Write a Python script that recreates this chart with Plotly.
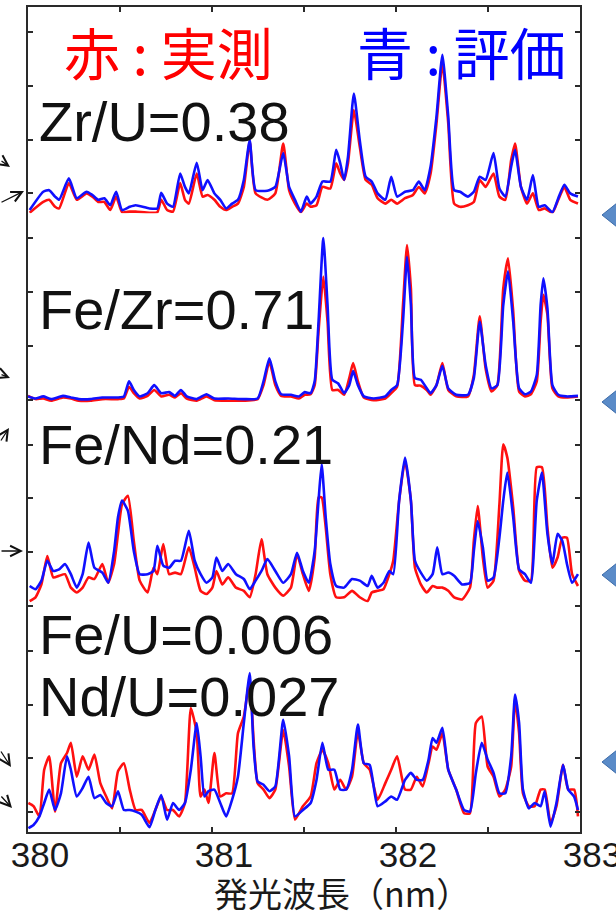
import plotly.graph_objects as go
from plotly.subplots import make_subplots

# ---------------- data (wavelength in nm, intensity in arbitrary units) ----------------
x_p1 = [380.009, 380.083, 380.115, 380.147, 380.169, 380.222, 380.265, 380.318, 380.350, 380.382,
        380.415, 380.447, 380.479, 380.511, 380.553, 380.585, 380.660, 380.703, 380.724, 380.756,
        380.788, 380.827, 380.853, 380.874, 380.917, 380.949, 380.976, 381.013, 381.045, 381.077,
        381.109, 381.141, 381.173, 381.205, 381.237, 381.301, 381.344, 381.387, 381.419, 381.451,
        381.483, 381.515, 381.536, 381.568, 381.600, 381.643, 381.675, 381.697, 381.718, 381.739,
        381.771, 381.803, 381.835, 381.868, 381.900, 381.942, 381.974, 382.006, 382.049, 382.092,
        382.124, 382.156, 382.188, 382.220, 382.252, 382.284, 382.316, 382.348, 382.391, 382.423,
        382.455, 382.487, 382.530, 382.562, 382.594, 382.626, 382.647, 382.679, 382.712, 382.744,
        382.776, 382.808, 382.850, 382.882, 382.915, 382.947, 382.989]
blue_p1 = [-31, 3, 6, -6, -12, 28, -9, 3, -3, -12,
           -9, -22, 3, -31, -25, -22, -28, -28, 1, -19,
           -25, 37, 12, 0, 57, 6, 25, 0, -12, -28,
           -19, -12, 25, 99, 6, 5, 12, 75, 12, -12,
           -34, -6, -19, -6, 22, 22, 81, 56, 25, 68,
           186, 99, 31, 22, 0, -12, 31, -6, 3, 6,
           22, 6, 50, 143, 258, 143, 6, 3, -6, 3,
           31, 25, 75, 9, -6, 50, 81, 12, -12, 34,
           -25, -22, -35, -9, 16, 0, -6]
red_p1 = [-36, -16, -12, -25, -28, 19, -12, 0, -6, -16,
          -16, -31, -6, -35, -34, -34, -36, -35, -12, -31,
          -34, 19, -12, -19, 37, -6, -3, -12, -25, -31,
          -25, -19, 12, 96, 0, -12, 0, 93, 6, -19,
          -35, -19, -25, -22, 12, 9, 56, 37, 25, 56,
          155, 87, 25, 16, -9, -19, -12, -19, -9, -3,
          12, 0, 37, 130, 242, 130, -19, -25, -22, -16,
          25, 12, 37, -6, -12, 62, 93, 12, -19, 0,
          -31, -28, -36, -12, 12, -12, -19]

x_p2 = [380.000, 380.041, 380.083, 380.126, 380.190, 380.233, 380.276, 380.340, 380.404, 380.489,
        380.521, 380.549, 380.575, 380.607, 380.650, 380.686, 380.724, 380.767, 380.799, 380.831,
        380.863, 380.917, 380.970, 381.013, 381.088, 381.173, 381.248, 381.280, 381.312, 381.344,
        381.376, 381.429, 381.472, 381.504, 381.536, 381.558, 381.579, 381.605, 381.628, 381.654,
        381.686, 381.718, 381.746, 381.767, 381.793, 381.825, 381.878, 381.942, 381.974, 382.006,
        382.038, 382.060, 382.081, 382.103, 382.135, 382.167, 382.188, 382.220, 382.252, 382.284,
        382.327, 382.391, 382.423, 382.455, 382.487, 382.519, 382.551, 382.583, 382.609, 382.637,
        382.669, 382.701, 382.733, 382.765, 382.786, 382.801, 382.823, 382.850, 382.882, 382.925,
        382.989]
blue_p2 = [6, 2, 6, 1, 7, 4, 1, 1, 4, 4,
           6, 34, 18, 6, 12, 27, 12, 14, 7, 18,
           6, 1, 10, 2, 2, 1, 2, 34, 77, 34,
           10, 9, 6, 14, 12, 34, 145, 301, 176, 37,
           30, 12, 27, 53, 27, 6, 2, 6, 18, 27,
           145, 266, 176, 40, 37, 21, 12, 27, 63, 21,
           9, 9, 40, 145, 65, 21, 27, 176, 239, 145,
           21, 10, 15, 46, 176, 226, 170, 27, 9, 6,
           7]
red_p2 = [7, 1, 2, -2, 4, 2, -2, -2, 1, 1,
          2, 24, 12, 2, 7, 18, 6, 9, 4, 12,
          2, -2, 6, -1, -2, -2, 1, 27, 71, 27,
          7, 6, 2, 9, 10, 27, 127, 229, 145, 18,
          18, 9, 40, 68, 34, 4, -1, 2, 12, 24,
          176, 288, 207, 27, 26, 18, 9, 27, 68, 18,
          6, 6, 46, 155, 58, 15, 27, 207, 263, 164,
          15, 6, 10, 34, 145, 195, 158, 21, 6, 4,
          6]

x_p3 = [380.009, 380.041, 380.073, 380.105, 380.137, 380.169, 380.201, 380.233, 380.265, 380.297,
        380.329, 380.361, 380.404, 380.436, 380.468, 380.489, 380.511, 380.543, 380.575, 380.607,
        380.650, 380.682, 380.703, 380.735, 380.767, 380.799, 380.831, 380.874, 380.906, 380.938,
        380.970, 381.002, 381.024, 381.056, 381.088, 381.130, 381.173, 381.205, 381.237, 381.269,
        381.301, 381.344, 381.387, 381.429, 381.462, 381.494, 381.526, 381.558, 381.579, 381.596,
        381.618, 381.643, 381.675, 381.718, 381.761, 381.803, 381.846, 381.868, 381.900, 381.932,
        381.964, 381.985, 382.017, 382.049, 382.081, 382.103, 382.135, 382.167, 382.199, 382.224,
        382.252, 382.284, 382.316, 382.359, 382.402, 382.423, 382.444, 382.472, 382.498, 382.530,
        382.562, 382.583, 382.605, 382.637, 382.669, 382.701, 382.733, 382.765, 382.793, 382.823,
        382.850, 382.878, 382.904, 382.929, 382.957, 382.989]
blue_p3 = [37, 31, 47, 84, 65, 68, 78, 59, 34, 59,
           118, 71, 62, 43, 102, 165, 196, 177, 102, 59,
           59, 65, 112, 75, 71, 84, 84, 140, 84, 59,
           43, 53, 90, 65, 78, 59, 50, 31, 47, 65,
           87, 65, 43, 59, 99, 65, 43, 102, 196, 264,
           165, 78, 37, 34, 50, 47, 37, 56, 34, 43,
           65, 59, 196, 276, 196, 84, 62, 47, 59, 109,
           59, 62, 56, 40, 43, 102, 158, 109, 47, 53,
           127, 196, 248, 165, 68, 59, 43, 196, 248, 134,
           78, 134, 121, 78, 43, 59]
red_p3 = [9, 16, 40, 93, 53, 56, 59, 34, 25, 34,
          53, 50, 78, 43, 78, 134, 189, 205, 121, 47,
          25, 71, 59, 115, 59, 62, 59, 109, 71, 28,
          22, 34, 65, 40, 53, 34, 28, 16, 59, 124,
          59, 34, 19, 34, 96, 59, 28, 90, 202, 202,
          146, 59, 16, 16, 28, 16, 9, 25, 28, 31,
          59, 84, 196, 270, 196, 71, 40, 25, 37, 34,
          34, 28, 16, 12, 34, 121, 186, 90, 34, 47,
          189, 301, 276, 183, 65, 47, 47, 258, 258, 146,
          71, 90, 127, 127, 59, 37]

x_p4 = [380.002, 380.030, 380.062, 380.088, 380.115, 380.147, 380.179, 380.212, 380.233, 380.265,
        380.297, 380.329, 380.361, 380.393, 380.425, 380.457, 380.489, 380.521, 380.553, 380.585,
        380.618, 380.660, 380.692, 380.724, 380.756, 380.788, 380.821, 380.853, 380.885, 380.917,
        380.938, 380.959, 380.981, 381.013, 381.045, 381.077, 381.109, 381.141, 381.173, 381.205,
        381.226, 381.248, 381.280, 381.312, 381.344, 381.387, 381.419, 381.451, 381.494, 381.536,
        381.568, 381.600, 381.632, 381.665, 381.697, 381.729, 381.761, 381.793, 381.825, 381.857,
        381.900, 381.942, 381.974, 382.006, 382.049, 382.081, 382.113, 382.145, 382.177, 382.199,
        382.220, 382.252, 382.284, 382.327, 382.370, 382.402, 382.434, 382.466, 382.498, 382.530,
        382.562, 382.594, 382.626, 382.647, 382.669, 382.690, 382.722, 382.754, 382.786, 382.808,
        382.840, 382.872, 382.908, 382.936, 382.968, 382.989]
blue_p4 = [-30, -24, -8, 17, 42, 4, 35, 104, 79, 29,
           45, 66, 26, 32, 17, 11, 39, 4, 4, 1,
           -5, -28, 4, 32, -14, 17, 4, 17, 79, 166,
           104, 29, 39, 42, 17, -8, 23, 66, 166, 259,
           122, 57, 51, 39, 48, 172, 104, -8, 4, 17,
           60, 129, 79, 79, 42, 42, 79, 163, 91, 88,
           11, 20, 29, 23, 60, 73, 60, 60, 98, 138,
           129, 157, 79, 42, 4, 1, 73, 129, 98, 73,
           35, 35, 104, 219, 166, 42, 7, 17, 11, 39,
           -27, 17, 88, 42, 29, 4]
red_p4 = [17, 11, -8, 79, 104, 1, 91, 110, 129, 66,
          104, 79, 107, 54, 29, 7, 76, 91, 42, 4,
          4, -20, 4, 29, 4, 4, -8, 17, 194, 147,
          29, 42, 17, 110, 29, 35, 35, 147, 178, 247,
          135, 54, 42, 26, 42, 153, 85, -14, 11, 29,
          91, 116, 91, 42, 60, 42, 66, 150, 91, 79,
          23, 54, 79, 104, 42, 42, 66, 48, 91, 122,
          116, 147, 79, 42, -2, -2, 166, 178, 85, 66,
          29, 42, 85, 209, 147, 35, 11, 11, 42, 42,
          -20, 11, 88, 42, 42, -8]

panel_x = [x_p1, x_p2, x_p3, x_p4]
panel_red = [red_p1, red_p2, red_p3, red_p4]
panel_blue = [blue_p1, blue_p2, blue_p3, blue_p4]
panel_labels = ["Zr/U=0.38", "Fe/Zr=0.71", "Fe/Nd=0.21", "Fe/U=0.006", "Nd/U=0.027"]
legend_red = "赤 : 実測"
legend_blue = "青 : 評価"
x_tick_vals = [380, 380.5, 381, 381.5, 382, 382.5, 383]
x_tick_text = ["380", "", "381", "", "382", "", "383"]
y_tick_vals = [0, 100, 200, 300]
x_title = "発光波長（nm）"

for xs, rs, bs in zip(panel_x, panel_red, panel_blue):
    assert len(xs) == len(rs) == len(bs), (len(xs), len(rs), len(bs))

# ---------------- figure ----------------
W, H = 616, 911
ML, MR, MT, MB = 28, 36, 7, 79
PW, PH = W - ML - MR, H - MT - MB

def px(x):
    return (x - ML) / PW

def py(y):
    return (H - MB - y) / PH

fig = make_subplots(rows=4, cols=1, shared_xaxes=True, vertical_spacing=0)

RED = "#FF1010"
BLUE = "#1010FF"
for i in range(4):
    fig.add_trace(go.Scatter(x=panel_x[i], y=panel_red[i], mode="lines",
                             line=dict(color=RED, width=2.6, shape="spline", smoothing=0.5),
                             showlegend=False, hoverinfo="skip"), row=i + 1, col=1)
    fig.add_trace(go.Scatter(x=panel_x[i], y=panel_blue[i], mode="lines",
                             line=dict(color=BLUE, width=2.6, shape="spline", smoothing=0.5),
                             showlegend=False, hoverinfo="skip"), row=i + 1, col=1)

AX = "#2a2a2a"
for i in range(1, 5):
    fig.update_yaxes(range=[-37, 347], tickvals=y_tick_vals, ticks="inside", ticklen=5,
                     tickwidth=1.6, tickcolor=AX, showticklabels=False, showline=True,
                     linecolor=AX, linewidth=2, mirror="ticks", showgrid=False,
                     zeroline=False, automargin=False, row=i, col=1)
    fig.update_xaxes(range=[380, 383], showgrid=False, zeroline=False, automargin=False,
                     row=i, col=1)

fig.update_layout(
    xaxis=dict(side="top", showline=True, linecolor=AX, linewidth=2, ticks="inside",
               ticklen=5, tickwidth=1.6, tickcolor=AX, tickvals=x_tick_vals,
               showticklabels=False),
    xaxis2=dict(showline=False, ticks=""),
    xaxis3=dict(showline=False, ticks=""),
    xaxis4=dict(showline=True, linecolor=AX, linewidth=2, ticks="inside", ticklen=5,
                tickwidth=1.6, tickcolor=AX, tickvals=x_tick_vals, ticktext=x_tick_text,
                showticklabels=True, ticklabelshift=12, ticklabelstandoff=-9,
                ticklabeloverflow="allow", automargin=False,
                tickfont=dict(family="Liberation Sans, Arial", size=35, color="#1a1a1a")),
)

ann = []
cjk = "Noto Sans CJK JP"
sans = "Liberation Sans, Arial"
ann.append(dict(text=legend_red, x=px(62), y=py(50), xref="paper", yref="paper",
                xanchor="left", yanchor="middle", showarrow=False,
                font=dict(family=cjk, size=56, color="#FF0000")))
ann.append(dict(text=legend_blue, x=px(355), y=py(50), xref="paper", yref="paper",
                xanchor="left", yanchor="middle", showarrow=False,
                font=dict(family=cjk, size=56, color="#0000FF")))
label_y = [121, 309, 444, 634, 696]
for t, yy in zip(panel_labels, label_y):
    ann.append(dict(text=t, x=px(37), y=py(yy), xref="paper", yref="paper",
                    xanchor="left", yanchor="middle", showarrow=False,
                    font=dict(family=sans, size=56, color="#111111")))
ann.append(dict(text=x_title, x=px(342), y=py(892), xref="paper", yref="paper",
                xanchor="center", yanchor="middle", showarrow=False,
                font=dict(family=cjk, size=34, color="#1a1a1a")))

# small arrows at the left edge (slide decorations)
arrows = [((10, 167), (-20, 160)), ((24, 191), (-4, 203)), ((10, 378), (-20, 374)),
          ((9, 428), (-6, 442)), ((23, 551), (-10, 551)), ((11, 767), (-8, 750)),
          ((12, 808), (-8, 795))]
for (tx, ty), (sx, sy) in arrows:
    ann.append(dict(x=px(tx), y=py(ty), xref="paper", yref="paper", showarrow=True,
                    ax=sx - tx, ay=sy - ty, arrowhead=5, arrowsize=1.6, arrowwidth=1.3,
                    arrowcolor="#111111", text=""))
fig.update_layout(annotations=ann)

# blue diamond markers at the right edge (slide decorations)
shapes = []
for ty in [215, 402, 575, 762]:
    x0, x1 = px(602), px(632)
    x2 = px(662)
    d = 24 / PH
    yc = py(ty)
    shapes.append(dict(type="path", xref="paper", yref="paper",
                       path=f"M {x0} {yc} L {x1} {yc + d} L {x2} {yc} L {x1} {yc - d} Z",
                       fillcolor="#5A8BC8", line=dict(color="#3D6CA8", width=1)))
fig.update_layout(shapes=shapes)

fig.update_layout(width=W, height=H, margin=dict(l=ML, r=MR, t=MT, b=MB, autoexpand=False),
                  paper_bgcolor="white", plot_bgcolor="white", showlegend=False)

fig.write_html("out.html", config={"displayModeBar": False})
